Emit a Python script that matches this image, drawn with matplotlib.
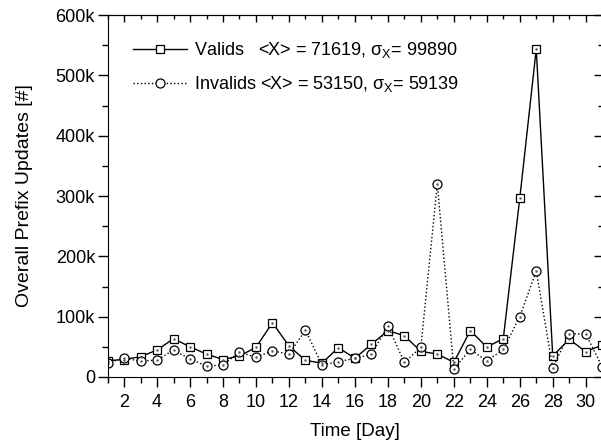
import matplotlib
matplotlib.use('Agg')
import matplotlib.pyplot as plt
from matplotlib.ticker import MultipleLocator

plt.rcParams['font.family'] = ['Liberation Sans', 'DejaVu Sans']
plt.rcParams['mathtext.fontset'] = 'custom'
plt.rcParams['mathtext.rm'] = 'Liberation Sans'
plt.rcParams['mathtext.it'] = 'Liberation Sans'

# daily counts, in thousands
days = list(range(1, 32))
valids = [27, 29, 33.7, 44.7, 63.5, 50, 38, 29, 34.8, 49.2,
          90, 51.4, 27.6, 23, 48.6, 31, 54.1, 76.8, 68.5, 42.5,
          38.1, 24.3, 76.8, 49.7, 63.5, 296, 543.7, 34.8, 62.5, 42, 53]
invalids = [23.7, 31, 26.5, 28, 44.7, 29.8, 18.2, 19.9, 41.4, 32.6,
            43.6, 37.6, 77.9, 20, 25.4, 31, 37.6, 84.5, 24.3, 49,
            320.4, 12.7, 45.9, 26.5, 45.9, 100, 175.7, 15.5, 71.8, 71.3, 17]
yticks = [0, 100, 200, 300, 400, 500, 600]
ytick_labels = ['0', '100k', '200k', '300k', '400k', '500k', '600k']

fig = plt.figure(figsize=(6.01, 4.47), dpi=100)
ax = fig.add_axes([0.179, 0.1566, 0.823, 0.8098])

ax.plot(days, valids, '-', color='black', lw=1, marker='s', ms=5.5,
        mfc='white', mec='black', mew=0.9,
        label=r'Valids   <X> = 71619, $\sigma_{\rm X}$= 99890')
ax.plot(days, invalids, ':', color='black', lw=1, marker='o', ms=6.5,
        mfc='white', mec='black', mew=0.9,
        label=r'Invalids <X> = 53150, $\sigma_{\rm X}$= 59139')
# small centre dots inside the markers
ax.plot(days, valids, '.', color='#555555', ms=1.5)
ax.plot(days, invalids, '.', color='#555555', ms=1.5)

ax.set_xlim(1, 31)
ax.set_ylim(0, 600)
ax.set_xticks(range(2, 31, 2))
ax.xaxis.set_minor_locator(MultipleLocator(1))
ax.set_yticks(yticks)
ax.set_yticklabels(ytick_labels)
ax.yaxis.set_minor_locator(MultipleLocator(50))
ax.tick_params(which='major', direction='out', length=7, width=1, labelsize=13)
ax.tick_params(which='minor', direction='out', length=4, width=1)
ax.tick_params(axis='x', which='major', pad=5)
ax.tick_params(axis='y', which='major', pad=2)

top = ax.secondary_xaxis('top')
top.set_xticks(range(2, 31, 2))
top.xaxis.set_minor_locator(MultipleLocator(1))
top.tick_params(which='major', direction='in', length=5, width=1, labeltop=False)
top.tick_params(which='minor', direction='in', length=3, width=1)
right = ax.secondary_yaxis('right')
right.set_yticks(yticks)
right.yaxis.set_minor_locator(MultipleLocator(50))
right.tick_params(which='major', direction='in', length=6, width=1, labelright=False)
right.tick_params(which='minor', direction='in', length=3, width=1)

ax.set_xlabel('Time [Day]', fontsize=13.5, labelpad=9)
ax.set_ylabel('Overall Prefix Updates [#]', fontsize=14, labelpad=16)

ax.legend(loc='upper left', bbox_to_anchor=(0.052, 0.93), frameon=False,
          borderpad=0, borderaxespad=0,
          fontsize=13, handlelength=3.0, handletextpad=0.35, labelspacing=0.75)

fig.savefig('out.png', dpi=100)
